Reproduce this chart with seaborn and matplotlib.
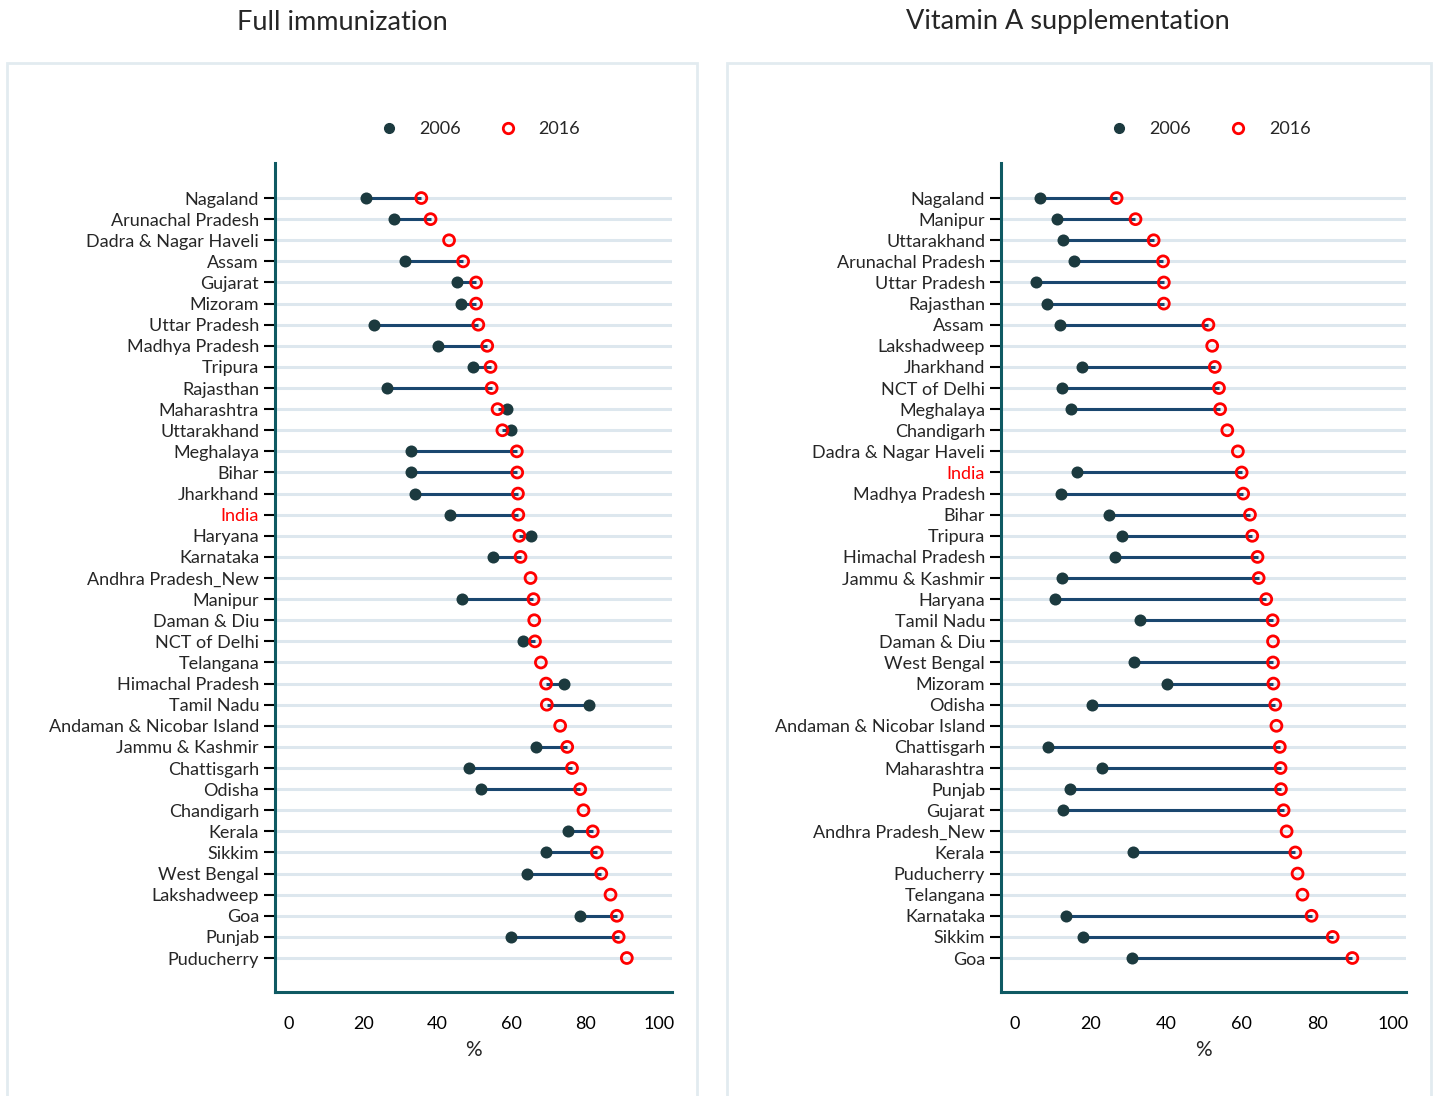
import numpy as np
import pandas as pd
import seaborn as sns
import matplotlib.pyplot as plt
from matplotlib.patches import Rectangle
from matplotlib.lines import Line2D

nan = np.nan

# Full immunization (%), top to bottom
fi_states = ["Nagaland", "Arunachal Pradesh", "Dadra & Nagar Haveli", "Assam", "Gujarat",
             "Mizoram", "Uttar Pradesh", "Madhya Pradesh", "Tripura", "Rajasthan",
             "Maharashtra", "Uttarakhand", "Meghalaya", "Bihar", "Jharkhand", "India",
             "Haryana", "Karnataka", "Andhra Pradesh_New", "Manipur", "Daman & Diu",
             "NCT of Delhi", "Telangana", "Himachal Pradesh", "Tamil Nadu",
             "Andaman & Nicobar Island", "Jammu & Kashmir", "Chattisgarh", "Odisha",
             "Chandigarh", "Kerala", "Sikkim", "West Bengal", "Lakshadweep", "Goa",
             "Punjab", "Puducherry"]
fi_2006 = [20.9, 28.3, nan, 31.3, 45.3, 46.4, 23.0, 40.3, 49.6, 26.4,
           58.8, 60.0, 32.9, 32.8, 34.1, 43.5, 65.3, 55.0, nan, 46.8,
           nan, 63.2, nan, 74.2, 80.9, nan, 66.7, 48.7, 51.7, nan,
           75.3, 69.5, 64.2, nan, 78.6, 60.0, nan]
fi_2016 = [35.7, 38.2, 43.2, 47.0, 50.5, 50.5, 51.1, 53.5, 54.4, 54.7,
           56.3, 57.6, 61.5, 61.6, 61.8, 61.9, 62.2, 62.5, 65.2, 66.0,
           66.2, 66.4, 68.0, 69.4, 69.6, 73.2, 75.1, 76.4, 78.6, 79.5,
           82.0, 83.1, 84.3, 86.8, 88.5, 89.0, 91.2]

# Vitamin A supplementation (%), top to bottom
va_states = ["Nagaland", "Manipur", "Uttarakhand", "Arunachal Pradesh", "Uttar Pradesh",
             "Rajasthan", "Assam", "Lakshadweep", "Jharkhand", "NCT of Delhi", "Meghalaya",
             "Chandigarh", "Dadra & Nagar Haveli", "India", "Madhya Pradesh", "Bihar",
             "Tripura", "Himachal Pradesh", "Jammu & Kashmir", "Haryana", "Tamil Nadu",
             "Daman & Diu", "West Bengal", "Mizoram", "Odisha", "Andaman & Nicobar Island",
             "Chattisgarh", "Maharashtra", "Punjab", "Gujarat", "Andhra Pradesh_New",
             "Kerala", "Puducherry", "Telangana", "Karnataka", "Sikkim", "Goa"]
va_2006 = [6.5, 11.1, 12.7, 15.7, 5.5, 8.6, 12.0, nan, 17.8, 12.4,
           14.8, nan, nan, 16.4, 12.3, 24.9, 28.2, 26.6, 12.4, 10.5,
           33.1, nan, 31.6, 40.2, 20.3, nan, 8.7, 23.1, 14.5, 12.7,
           nan, 31.3, nan, nan, 13.5, 17.9, 30.9]
va_2016 = [26.9, 31.9, 36.7, 39.2, 39.4, 39.4, 51.2, 52.2, 52.9, 54.0,
           54.3, 56.2, 59.0, 60.0, 60.4, 62.2, 62.8, 64.2, 64.5, 66.5,
           68.2, 68.3, 68.3, 68.4, 68.9, 69.2, 70.1, 70.3, 70.4, 71.1,
           71.9, 74.2, 74.8, 76.1, 78.5, 84.1, 89.3]

DOT = "#1c3a3f"
LINE = "#1a476f"
AXIS = "#0f5a63"
GRID = "#dde7ee"

sns.set_theme(style="white")
plt.rcParams["font.family"] = ["Lato", "DejaVu Sans"]

fig = plt.figure(figsize=(14.37, 10.96), dpi=100)

# panel frames
for x0, x1 in [(7, 697), (727, 1431)]:
    fig.patches.append(Rectangle((x0 / 1437, -0.01), (x1 - x0) / 1437, 1 - 63 / 1096 + 0.01,
                                 transform=fig.transFigure, fill=False,
                                 edgecolor="#e2ebf0", linewidth=2, zorder=0))


def dumbbell(ax, states, v06, v16, title, title_x):
    df = pd.DataFrame({"state": states, "y": np.arange(len(states)),
                       "v06": v06, "v16": v16})
    ax.hlines(df["y"], df["v06"], df["v16"], color=LINE, linewidth=2.2, zorder=2)
    sns.scatterplot(data=df, x="v06", y="y", ax=ax, color=DOT, s=75,
                    edgecolor=DOT, linewidth=0, zorder=3)
    sns.scatterplot(data=df, x="v16", y="y", ax=ax, s=62, facecolor="none",
                    edgecolor="red", linewidth=2.0, zorder=4)
    ax.set_ylim(len(states) - 1 + 1.61, -1.66)
    ax.set_yticks(df["y"])
    ax.set_yticklabels(states, fontsize=13)
    for lab in ax.get_yticklabels():
        if lab.get_text() == "India":
            lab.set_color("red")
    ax.set_xticks([0, 20, 40, 60, 80, 100])
    ax.tick_params(axis="x", labelsize=13, colors=AXIS, length=8, width=1.5,
                   labelcolor="black", pad=9)
    ax.tick_params(axis="y", length=8, width=1.5, color="black", left=True)
    ax.set_axisbelow(True)
    ax.yaxis.grid(True, color=GRID, linewidth=2.2)
    ax.xaxis.grid(False)
    sns.despine(ax=ax)
    for sp in ["left", "bottom"]:
        ax.spines[sp].set_color(AXIS)
        ax.spines[sp].set_linewidth(2.2)
    ax.set_xlabel("%", fontsize=15, labelpad=6)
    ax.set_ylabel("")
    fig.text(title_x, 1 - 22 / 1096, title, ha="center", va="center", fontsize=19.5)
    handles = [Line2D([], [], marker="o", linestyle="", color=DOT, markersize=7),
               Line2D([], [], marker="o", linestyle="", markerfacecolor="none",
                      markeredgecolor="red", markeredgewidth=2, markersize=7.5)]
    ax.legend(handles, ["2006", "2016"], ncol=2, frameon=False, fontsize=13,
              loc="center", bbox_to_anchor=(0.505, 1.041), columnspacing=1.6,
              handletextpad=0.7)


ax1 = fig.add_axes([275 / 1437, 1 - 992 / 1096, 397 / 1437, 829 / 1096])
dumbbell(ax1, fi_states, fi_2006, fi_2016, "Full immunization", 342 / 1437)
ax1.set_xlim(-3.8, 103.4)

ax2 = fig.add_axes([1001 / 1437, 1 - 992 / 1096, 405 / 1437, 829 / 1096])
dumbbell(ax2, va_states, va_2006, va_2016, "Vitamin A supplementation", 1068 / 1437)
ax2.set_xlim(-3.7, 103.5)

fig.savefig("out.png", dpi=100)
